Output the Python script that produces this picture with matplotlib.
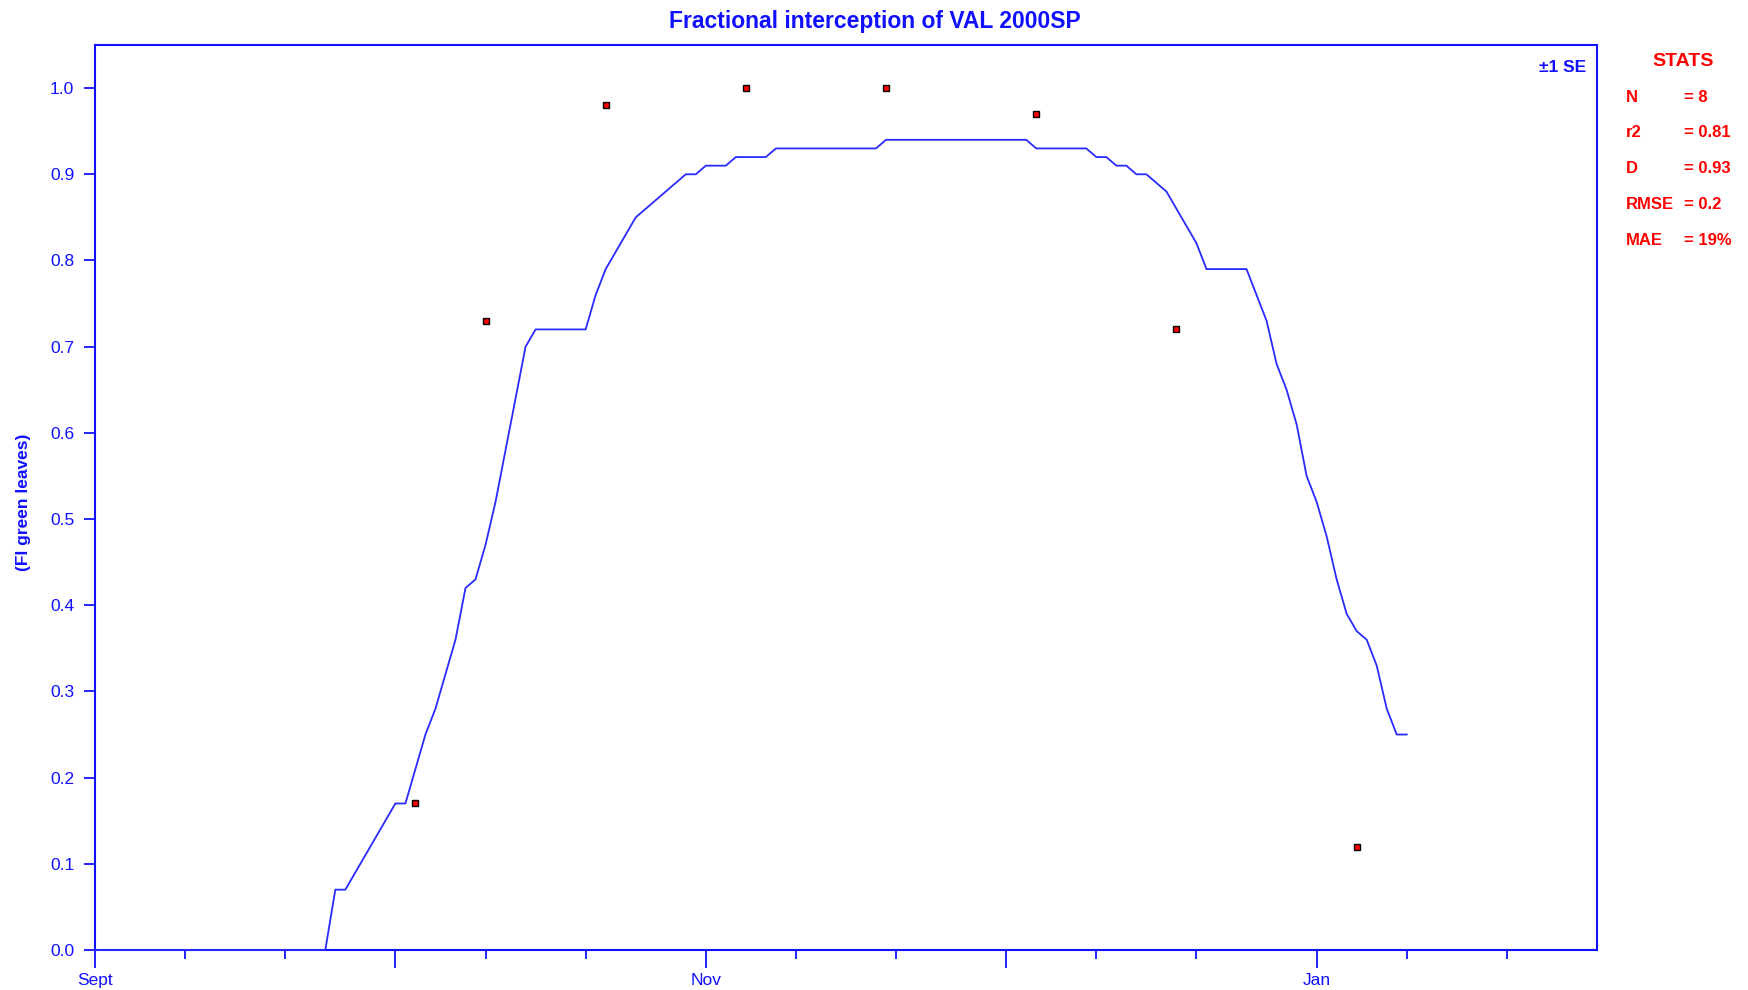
import matplotlib
matplotlib.use("Agg")
import matplotlib.pyplot as plt
import matplotlib.dates as mdates
import numpy as np

plt.rcParams["font.family"] = ["Liberation Sans", "DejaVu Sans"]

BLUE = "#1010ff"
LINE = "#2a2aff"
RED = "#ff0000"

start = np.datetime64("2000-09-01")

# simulated FI, one value per day from 1 Sept 2000
sim_fi = [
    0.00, 0.00, 0.00, 0.00, 0.00, 0.00, 0.00, 0.00, 0.00, 0.00,
    0.00, 0.00, 0.00, 0.00, 0.00, 0.00, 0.00, 0.00, 0.00, 0.00,
    0.00, 0.00, 0.00, 0.00, 0.07, 0.07, 0.09, 0.11, 0.13, 0.15,
    0.17, 0.17, 0.21, 0.25, 0.28, 0.32, 0.36, 0.42, 0.43, 0.47,
    0.52, 0.58, 0.64, 0.70, 0.72, 0.72, 0.72, 0.72, 0.72, 0.72,
    0.76, 0.79, 0.81, 0.83, 0.85, 0.86, 0.87, 0.88, 0.89, 0.90,
    0.90, 0.91, 0.91, 0.91, 0.92, 0.92, 0.92, 0.92, 0.93, 0.93,
    0.93, 0.93, 0.93, 0.93, 0.93, 0.93, 0.93, 0.93, 0.93, 0.94,
    0.94, 0.94, 0.94, 0.94, 0.94, 0.94, 0.94, 0.94, 0.94, 0.94,
    0.94, 0.94, 0.94, 0.94, 0.93, 0.93, 0.93, 0.93, 0.93, 0.93,
    0.92, 0.92, 0.91, 0.91, 0.90, 0.90, 0.89, 0.88, 0.86, 0.84,
    0.82, 0.79, 0.79, 0.79, 0.79, 0.79, 0.76, 0.73, 0.68, 0.65,
    0.61, 0.55, 0.52, 0.48, 0.43, 0.39, 0.37, 0.36, 0.33, 0.28,
    0.25, 0.25,
]
sim_dates = start + np.arange(len(sim_fi)).astype("timedelta64[D]")

# observed FI
obs_days = [32, 39, 51, 65, 79, 94, 108, 126]
obs_fi = [0.17, 0.73, 0.98, 1.00, 1.00, 0.97, 0.72, 0.12]
obs_dates = start + np.array(obs_days).astype("timedelta64[D]")

stat_names = ["N", "r2", "D", "RMSE", "MAE"]
stat_values = ["= 8", "= 0.81", "= 0.93", "= 0.2", "= 19%"]

month_names = {9: "Sept", 11: "Nov", 1: "Jan"}

fig = plt.figure(figsize=(17.49, 9.90), dpi=100)
ax = fig.add_axes([95 / 1749, 40 / 990, 1502 / 1749, 905 / 990])

ax.plot(sim_dates, sim_fi, color=LINE, lw=1.3, clip_on=False, zorder=3)
ax.plot(obs_dates, obs_fi, ls="none", marker="s", ms=4.5, mfc=RED, mec="black",
        mew=1.0, zorder=4)

ax.set_xlim(start, start + np.timedelta64(150, "D"))
ax.set_ylim(0, 1.05)

ax.xaxis.set_major_locator(mdates.MonthLocator())
ax.xaxis.set_minor_locator(mdates.DayLocator(bymonthday=[10, 20]))
ax.xaxis.set_major_formatter(
    plt.FuncFormatter(lambda v, p: month_names.get(mdates.num2date(v).month, "")))
ax.set_yticks(np.arange(0, 1.01, 0.1))
ax.yaxis.set_major_formatter(plt.FuncFormatter(lambda v, p: f"{v:.1f}"))

for s in ax.spines.values():
    s.set_color(BLUE)
    s.set_linewidth(1.5)
ax.tick_params(axis="both", which="both", direction="out", colors=BLUE,
               labelcolor=BLUE, labelsize=12.5, width=1.3)
ax.tick_params(axis="x", which="major", length=13, pad=3.5)
ax.tick_params(axis="x", which="minor", length=6.5)
ax.tick_params(axis="y", which="major", length=8, pad=7)

ax.text(0.993, 0.983, "±1 SE", transform=ax.transAxes, ha="right", va="top",
        color=BLUE, fontsize=12.5, fontweight="bold")

fig.text(0.5, 0.978, "Fractional interception of VAL 2000SP", ha="center",
         va="center", color=BLUE, fontsize=16.5, fontweight="bold")
fig.text(24 / 1749, 1 - 502 / 990, "(FI green leaves)", rotation=90, ha="center",
         va="center", color=BLUE, fontsize=12.5, fontweight="bold")

fig.text(1683 / 1749, 1 - 61 / 990, "STATS", ha="center", va="center",
         color=RED, fontsize=14, fontweight="bold")
for i, (name, val) in enumerate(zip(stat_names, stat_values)):
    y = 1 - (97 + 35.8 * i) / 990
    fig.text(1626 / 1749, y, name, ha="left", va="center", color=RED,
             fontsize=12, fontweight="bold")
    fig.text(1684 / 1749, y, val, ha="left", va="center", color=RED,
             fontsize=12, fontweight="bold")

fig.savefig("out.png", dpi=100, facecolor="white")
